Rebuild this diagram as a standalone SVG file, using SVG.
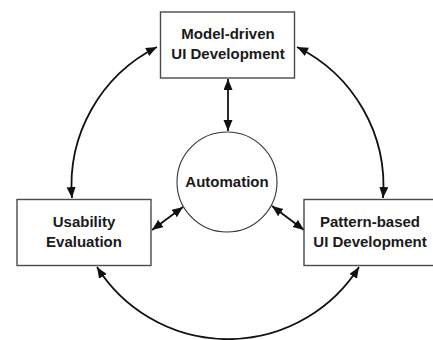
<svg xmlns="http://www.w3.org/2000/svg" width="433" height="340" viewBox="0 0 433 340">
  <style>
    .box { fill: #ffffff; stroke: #4a4a4a; stroke-width: 1.4; }
    .hub { fill: #ffffff; stroke: #333333; stroke-width: 1.1; }
    .label { font-family: "Liberation Sans", Arial, sans-serif; font-weight: bold; font-size: 15px; fill: #1a1a1a; text-anchor: middle; }
    .link { fill: none; stroke: #111111; stroke-width: 1.8; marker-start: url(#head); marker-end: url(#head); }
  </style>
  <defs>
    <marker id="head" markerUnits="userSpaceOnUse" markerWidth="12" markerHeight="10" refX="11" refY="4.5" orient="auto-start-reverse">
      <path d="M0,0 L11,4.5 L0,9 z" fill="#111111"/>
    </marker>
  </defs>
  <rect width="433" height="340" fill="#ffffff"/>

  <g id="connectors">
    <!-- outer ring of bidirectional arcs -->
    <path class="link" d="M 157 47 A 155 155 0 0 0 72 198"/>
    <path class="link" d="M 297 47 A 155 155 0 0 1 383 198"/>
    <path class="link" d="M 97 267 A 155 155 0 0 0 359 267"/>
    <!-- spokes to the hub -->
    <path class="link" d="M 228 79 L 228 131"/>
    <path class="link" d="M 152 230 L 183 207"/>
    <path class="link" d="M 272 206 L 304 230"/>
  </g>

  <g id="model-driven">
    <rect class="box" x="160.5" y="12" width="134" height="66"/>
    <text class="label" x="228" y="39">Model-driven</text>
    <text class="label" x="228" y="59">UI Development</text>
  </g>

  <g id="usability">
    <rect class="box" x="17" y="199.5" width="134" height="66"/>
    <text class="label" x="84" y="227">Usability</text>
    <text class="label" x="84" y="247">Evaluation</text>
  </g>

  <g id="pattern-based">
    <rect class="box" x="304" y="199.5" width="134" height="66"/>
    <text class="label" x="370" y="227">Pattern-based</text>
    <text class="label" x="370" y="247">UI Development</text>
  </g>

  <g id="automation">
    <circle class="hub" cx="227" cy="182" r="50"/>
    <text class="label" x="227" y="187">Automation</text>
  </g>
</svg>
